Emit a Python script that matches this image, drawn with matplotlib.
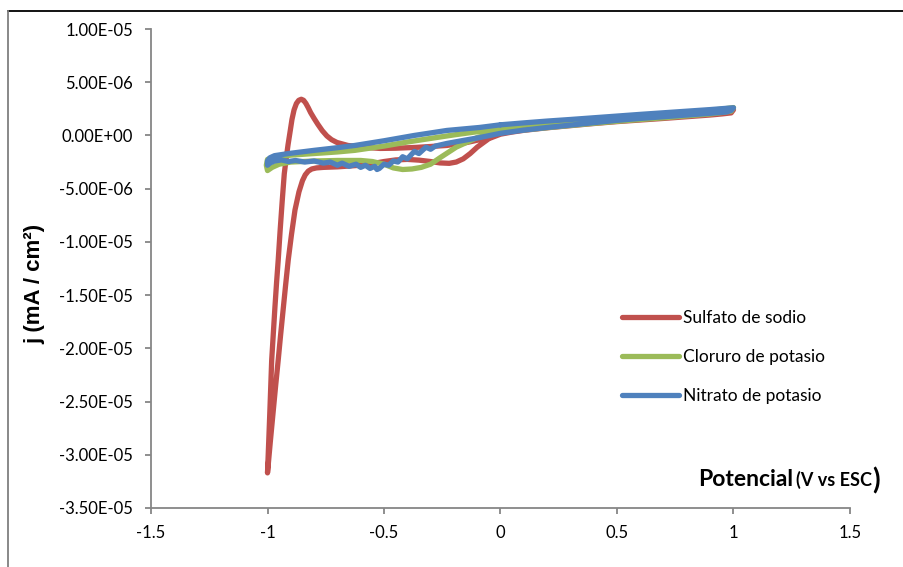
import numpy as np
import matplotlib
matplotlib.use("Agg")
import matplotlib.pyplot as plt
from matplotlib.lines import Line2D
from matplotlib.ticker import FixedLocator, FuncFormatter

# Cyclic voltammograms: potential (V vs ESC) and current density (x 1e-6)
E_sulfato = [0.00, 0.10, 0.20, 0.30, 0.40, 0.50, 0.60, 0.70, 0.80, 0.90, 0.96, 1.00,
             0.99, 0.95, 0.90, 0.80, 0.70, 0.60, 0.50, 0.40, 0.30, 0.20, 0.10, 0.05, 0.00,
             -0.05, -0.10, -0.13, -0.16, -0.19, -0.22, -0.26, -0.30, -0.35, -0.40, -0.45,
             -0.50, -0.55, -0.60, -0.70, -0.76, -0.79, -0.81, -0.825, -0.838, -0.850,
             -0.865, -0.882, -0.897, -0.911, -0.922, -0.933, -0.944, -0.954, -0.965,
             -0.975, -0.988, -1.00,
             -0.995, -0.990, -0.982, -0.975, -0.968, -0.961, -0.954, -0.946, -0.937, -0.928,
             -0.920, -0.912, -0.902, -0.895, -0.886, -0.876, -0.866, -0.855, -0.845,
             -0.835, -0.825, -0.815, -0.800, -0.784, -0.765, -0.745, -0.725, -0.702,
             -0.655, -0.582, -0.517, -0.450, -0.360, -0.230, -0.144, -0.045, 0.000]
j_sulfato = [0.40, 0.62, 0.83, 1.03, 1.22, 1.40, 1.58, 1.76, 1.94, 2.15, 2.30, 2.42,
             2.12, 2.02, 1.92, 1.76, 1.60, 1.45, 1.30, 1.12, 0.92, 0.72, 0.48, 0.32, 0.12,
             -0.30, -1.10, -1.70, -2.20, -2.50, -2.62, -2.58, -2.45, -2.32, -2.25, -2.30,
             -2.45, -2.65, -2.80, -2.95, -3.00, -3.05, -3.15, -3.35, -3.70, -4.25,
             -5.30, -7.00, -9.30, -11.70, -14.00, -16.40, -18.80, -21.10, -23.50,
             -25.80, -28.80, -31.70,
             -28.90, -26.00, -21.10, -18.60, -16.10, -13.80, -11.70, -9.00, -6.20, -3.60,
             -2.20, -0.90, 0.50, 1.50, 2.40, 3.00, 3.30, 3.40, 3.30,
             3.00, 2.60, 2.15, 1.60, 1.05, 0.45, -0.05, -0.40, -0.66,
             -0.94, -1.12, -1.22, -1.20, -1.12, -0.94, -0.66, -0.19, 0.40]

E_cloruro = [0.00, 0.10, 0.20, 0.30, 0.40, 0.50, 0.60, 0.70, 0.80, 0.90, 0.96, 1.00,
             0.99, 0.95, 0.90, 0.80, 0.70, 0.60, 0.50, 0.40, 0.30, 0.20, 0.10, 0.03, -0.015,
             -0.10, -0.19, -0.26, -0.30, -0.34, -0.38, -0.42, -0.46, -0.50, -0.55, -0.60,
             -0.70, -0.80, -0.90, -0.95, -0.98, -1.00, -1.005, -1.00, -0.97, -0.90, -0.80,
             -0.70, -0.625, -0.50, -0.40, -0.30, -0.20, -0.10, 0.00, 0.02]
j_cloruro = [0.85, 1.03, 1.20, 1.36, 1.52, 1.68, 1.85, 2.02, 2.18, 2.36, 2.50, 2.62,
             2.28, 2.15, 2.02, 1.84, 1.66, 1.50, 1.33, 1.14, 0.94, 0.73, 0.52, 0.45, 0.30,
             -0.20, -1.10, -2.10, -2.70, -3.00, -3.15, -3.20, -3.05, -2.70, -2.45, -2.35,
             -2.35, -2.40, -2.50, -2.70, -3.00, -3.30, -2.80, -2.25, -2.05, -1.85, -1.70,
             -1.55, -1.40, -1.00, -0.62, -0.28, 0.05, 0.35, 0.65, 0.90]

E_nitrato = [0.00, 0.10, 0.20, 0.30, 0.40, 0.50, 0.60, 0.70, 0.80, 0.90, 0.97, 1.00,
             0.99, 0.97, 0.90, 0.80, 0.70, 0.60, 0.50, 0.40, 0.30, 0.20, 0.10, 0.00,
             -0.09, -0.16, -0.23, -0.28, -0.30, -0.32, -0.35, -0.37, -0.40, -0.42, -0.44,
             -0.46, -0.48, -0.50, -0.52, -0.53, -0.54, -0.56, -0.58, -0.60, -0.62, -0.65,
             -0.68, -0.70, -0.73, -0.76, -0.80, -0.84, -0.88, -0.91, -0.94, -0.97, -0.99,
             -1.00, -1.00, -0.99, -0.97, -0.91, -0.80, -0.70, -0.625, -0.50, -0.37, -0.23,
             -0.09, 0.00]
j_nitrato = [1.00, 1.18, 1.35, 1.50, 1.66, 1.82, 1.98, 2.13, 2.28, 2.43, 2.55, 2.60,
             2.35, 2.20, 2.08, 1.92, 1.76, 1.60, 1.42, 1.20, 0.97, 0.75, 0.50, 0.20,
             -0.20, -0.47, -0.75, -1.00, -1.30, -1.10, -1.70, -1.50, -2.20, -2.00, -2.50,
             -2.40, -2.80, -2.70, -3.10, -3.20, -2.90, -3.10, -2.80, -3.00, -2.70, -2.90,
             -2.60, -2.80, -2.50, -2.60, -2.40, -2.50, -2.35, -2.45, -2.30, -2.40, -2.60,
             -2.80, -2.40, -2.10, -1.90, -1.70, -1.40, -1.15, -0.94, -0.50, 0.00, 0.47,
             0.75, 1.00]

labels = ["Sulfato de sodio", "Cloruro de potasio", "Nitrato de potasio"]
colors = ["#C0504D", "#9BBB59", "#4F81BD"]
x_ticks = [-1.5, -1.0, -0.5, 0.0, 0.5, 1.0, 1.5]
y_ticks = [1.0e-5, 5.0e-6, 0.0, -5.0e-6, -1.0e-5, -1.5e-5, -2.0e-5, -2.5e-5, -3.0e-5, -3.5e-5]

W, H = 904, 567
fig = plt.figure(figsize=(W / 100, H / 100), dpi=100)
ax = fig.add_axes([151 / W, 1 - 508 / H, (850 - 151) / W, (508 - 29) / H])

series = [(E_sulfato, j_sulfato), (E_cloruro, j_cloruro), (E_nitrato, j_nitrato)]
for (E, j), lab, col in zip(series, labels, colors):
    ax.plot(E, np.array(j) * 1e-6, color=col, lw=3.8, label=lab,
            solid_joinstyle="round", solid_capstyle="round")

ax.set_xlim(-1.5, 1.5)
ax.set_ylim(-3.5e-5, 1.0e-5)
ax.xaxis.set_major_locator(FixedLocator(x_ticks))
ax.yaxis.set_major_locator(FixedLocator(y_ticks))
ax.xaxis.set_major_formatter(FuncFormatter(lambda v, p: f"{v:g}"))
ax.yaxis.set_major_formatter(FuncFormatter(lambda v, p: f"{v:.2E}"))

axis_grey = "#868686"
for side in ("top", "right"):
    ax.spines[side].set_visible(False)
for side in ("left", "bottom"):
    ax.spines[side].set_color(axis_grey)
    ax.spines[side].set_linewidth(1.3)
ax.tick_params(axis="both", direction="out", length=4, width=1.3, color=axis_grey,
               labelsize=12, labelcolor="black")
ax.tick_params(axis="y", pad=9)
ax.tick_params(axis="x", pad=8)
for t in ax.get_xticklabels() + ax.get_yticklabels():
    t.set_fontfamily("Lato")

ax.set_ylabel("j (mA / cm²)", fontfamily="Liberation Sans", fontweight="bold",
              fontsize=16)
ax.yaxis.set_label_coords(45 / W, 0.5, transform=fig.transFigure)

# Axis title split into three runs of different size
t1 = fig.text(698 / W, 1 - 490 / H, "Potencial", fontfamily="Lato", fontweight="bold",
              fontsize=16.5, ha="left", va="bottom")
t2 = ax.annotate("(V vs ESC", xy=(1, 0), xycoords=t1, xytext=(2, 0.5),
                 textcoords="offset points", fontfamily="Lato", fontweight="bold",
                 fontsize=13, ha="left", va="bottom")
t3 = ax.annotate(")", xy=(1, 0), xycoords=t2, xytext=(0, -3.5),
                 textcoords="offset points", fontfamily="Lato", fontweight="bold",
                 fontsize=20, ha="left", va="bottom")

leg = ax.legend(loc="upper left", bbox_to_anchor=(622 / W, 1 - 310 / H),
                bbox_transform=fig.transFigure, frameon=False,
                prop={"family": "Lato", "size": 12.5}, handlelength=3.3,
                handletextpad=0.2, labelspacing=1.33, borderpad=0, borderaxespad=0)

# Outer chart frame
fig.add_artist(Line2D([8 / W, 1.0], [1 - 11 / H, 1 - 11 / H], color="black", lw=1.3,
                      transform=fig.transFigure))
fig.add_artist(Line2D([8 / W, 8 / W], [0.0, 1 - 11 / H], color="#7F7F7F", lw=1.3,
                      transform=fig.transFigure))

fig.savefig("out.png", dpi=100)
